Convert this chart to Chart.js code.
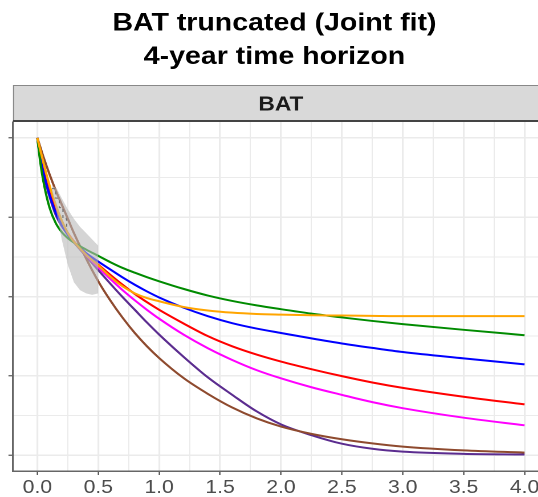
<!DOCTYPE html>
<html>
<head>
<meta charset="utf-8">
<script src="https://cdn.jsdelivr.net/npm/chart.js@4.4.0/dist/chart.umd.min.js"></script>
<style>
  html, body { margin: 0; padding: 0; background: #fff; overflow: hidden; width: 538px; height: 497px; }
  #wrap { width: 485px; height: 497px; transform: scaleX(1.14); transform-origin: 0 0; }
</style>
</head>
<body>
<div id="wrap"><canvas id="chart" width="485" height="497"></canvas></div>
<script>
// titles
const titleLines = ['BAT truncated (Joint fit)', '4-year time horizon'];
const panelLabel = 'BAT';

// time points (years) shared by all fitted curves
const times = [0, 0.025, 0.05, 0.1, 0.15, 0.2, 0.25, 0.3, 0.4, 0.5, 0.6, 0.7, 0.8, 0.9, 1.0, 1.2, 1.4, 1.6, 1.8, 2.0, 2.25, 2.5, 2.75, 3.0, 3.5, 4.0];

// survival, one array per model
const survGreen   = [1, 0.92, 0.862, 0.78, 0.732, 0.703, 0.684, 0.67, 0.648, 0.628, 0.608, 0.59, 0.575, 0.561, 0.548, 0.524, 0.503, 0.486, 0.472, 0.460, 0.446, 0.434, 0.423, 0.413, 0.395, 0.378];
const survOrange  = [1, 0.96, 0.922, 0.85, 0.79, 0.74, 0.70, 0.673, 0.632, 0.598, 0.562, 0.532, 0.51, 0.495, 0.485, 0.467, 0.456, 0.449, 0.445, 0.443, 0.441, 0.44, 0.439, 0.438, 0.438, 0.438];
const survBlue    = [1, 0.935, 0.89, 0.82, 0.765, 0.725, 0.695, 0.672, 0.637, 0.61, 0.585, 0.56, 0.537, 0.516, 0.497, 0.465, 0.438, 0.416, 0.399, 0.385, 0.368, 0.352, 0.338, 0.325, 0.305, 0.286];
const survRed     = [1, 0.94, 0.895, 0.825, 0.77, 0.73, 0.698, 0.673, 0.633, 0.60, 0.568, 0.537, 0.508, 0.482, 0.458, 0.415, 0.375, 0.343, 0.317, 0.295, 0.271, 0.249, 0.229, 0.212, 0.184, 0.16];
const survMagenta = [1, 0.945, 0.90, 0.83, 0.775, 0.733, 0.70, 0.674, 0.63, 0.592, 0.555, 0.52, 0.488, 0.458, 0.43, 0.38, 0.337, 0.30, 0.268, 0.242, 0.214, 0.19, 0.167, 0.148, 0.118, 0.094];
const survPurple  = [1, 0.93, 0.885, 0.815, 0.758, 0.722, 0.695, 0.671, 0.627, 0.583, 0.54, 0.498, 0.458, 0.418, 0.38, 0.31, 0.245, 0.19, 0.138, 0.097, 0.063, 0.036, 0.02, 0.011, 0.004, 0.002];
const survBrown   = [1, 0.97, 0.94, 0.885, 0.835, 0.79, 0.745, 0.70, 0.62, 0.548, 0.487, 0.433, 0.385, 0.343, 0.306, 0.243, 0.193, 0.15, 0.116, 0.09, 0.067, 0.05, 0.037, 0.027, 0.015, 0.008];

// observed KM confidence band and KM line (only early follow-up)
const bandX     = [0.12, 0.16, 0.2, 0.25, 0.3, 0.35, 0.4, 0.45, 0.5];
const bandLower = [0.83, 0.76, 0.68, 0.60, 0.545, 0.52, 0.51, 0.505, 0.51];
const bandUpper = [0.85, 0.84, 0.81, 0.775, 0.745, 0.72, 0.70, 0.68, 0.66];
const kmX = [0.12, 0.15, 0.18, 0.21, 0.24];
const kmY = [0.84, 0.81, 0.78, 0.745, 0.71];

const FONT = '"Liberation Sans", Arial, Helvetica, sans-serif';

let pts = (xs, ys) => xs.map((x, i) => ({ x: x, y: ys[i] }));

let curve = (ys, color) => ({
  data: pts(times, ys),
  borderColor: color,
  borderWidth: 2,
  pointRadius: 0,
  fill: false,
  cubicInterpolationMode: 'monotone'
});

let isMajor = (v, step) => Math.abs(v / step - Math.round(v / step)) < 1e-6;

// grey facet strip above the panel
const stripPlugin = {
  id: 'strip',
  afterDraw(chart) {
    const ctx = chart.ctx;
    const area = chart.chartArea;
    const h = 37;
    const top = area.top - h;
    const left = area.left;
    const right = chart.width + 10;
    ctx.save();
    ctx.fillStyle = '#d9d9d9';
    ctx.fillRect(left, top, right - left, h);
    ctx.strokeStyle = '#888';
    ctx.lineWidth = 1;
    ctx.beginPath();
    ctx.moveTo(left, top + 0.5);
    ctx.lineTo(right, top + 0.5);
    ctx.moveTo(left + 0.5, top);
    ctx.lineTo(left + 0.5, area.top);
    ctx.stroke();
    ctx.strokeStyle = '#444';
    ctx.lineWidth = 2;
    ctx.beginPath();
    ctx.moveTo(left, area.top - 1);
    ctx.lineTo(right, area.top - 1);
    ctx.stroke();
    ctx.fillStyle = '#1a1a1a';
    ctx.font = 'bold 20px ' + FONT;
    ctx.textAlign = 'center';
    ctx.textBaseline = 'middle';
    ctx.fillText(panelLabel, (area.left + area.right) / 2, top + h / 2 + 1.5);
    ctx.restore();
  }
};

const ctx = document.getElementById('chart');

const config = {
  type: 'line',
  data: {
    datasets: [
      { data: pts(bandX, bandLower), borderWidth: 0, pointRadius: 0, fill: false },
      { data: pts(bandX, bandUpper), borderWidth: 0, pointRadius: 0, fill: '-1', backgroundColor: 'rgba(185,185,185,0.6)' },
      { data: pts(kmX, kmY), borderColor: '#000', borderWidth: 1, borderDash: [3, 3], pointRadius: 0, stepped: true, fill: false },
      curve(survOrange, '#FFA500'),
      curve(survGreen, '#008B00'),
      curve(survBlue, '#0000FF'),
      curve(survRed, '#FF0000'),
      curve(survMagenta, '#FF00FF'),
      curve(survBrown, '#8E4A2E'),
      curve(survPurple, '#5B2C8F')
    ]
  },
  options: {
    responsive: false,
    animation: false,
    devicePixelRatio: 2,
    layout: { padding: { left: 0, right: 3.5, top: 0, bottom: 0 } },
    plugins: {
      legend: { display: false },
      tooltip: { enabled: false },
      title: {
        display: true,
        text: titleLines,
        color: '#000',
        font: { family: FONT, size: 25, weight: 'bold', lineHeight: 1.34 },
        padding: { top: 7, bottom: 48 }
      }
    },
    scales: {
      x: {
        type: 'linear',
        min: -0.2,
        max: 4.2,
        afterFit: (s) => { s.height = 26; },
        border: { display: true, color: '#666', width: 1.5 },
        grid: {
          color: '#ebebeb',
          lineWidth: (c) => isMajor(c.tick.value, 0.5) ? 1.6 : 1,
          drawTicks: true,
          tickLength: 4,
          tickWidth: 1.2,
          tickColor: (c) => isMajor(c.tick.value, 0.5) ? '#555' : 'rgba(0,0,0,0)'
        },
        ticks: {
          stepSize: 0.25,
          includeBounds: false,
          autoSkip: false,
          maxRotation: 0,
          minRotation: 0,
          padding: 2,
          color: '#4d4d4d',
          font: { family: FONT, size: 18.5 },
          callback: (v) => isMajor(v, 0.5) ? Number(v).toFixed(1) : ''
        }
      },
      y: {
        type: 'linear',
        min: -0.05,
        max: 1.05,
        afterFit: (s) => { s.width = 11.4; },
        border: { display: true, color: '#666', width: 1.5 },
        grid: {
          color: '#ebebeb',
          lineWidth: (c) => isMajor(c.tick.value, 0.25) ? 1.5 : 1,
          drawTicks: true,
          tickLength: 4,
          tickWidth: 1.2,
          tickColor: (c) => isMajor(c.tick.value, 0.25) ? '#555' : 'rgba(0,0,0,0)'
        },
        ticks: { display: false, stepSize: 0.125, includeBounds: false }
      }
    }
  },
  plugins: [stripPlugin]
};

const chart = new Chart(ctx, config);
</script>
</body>
</html>
